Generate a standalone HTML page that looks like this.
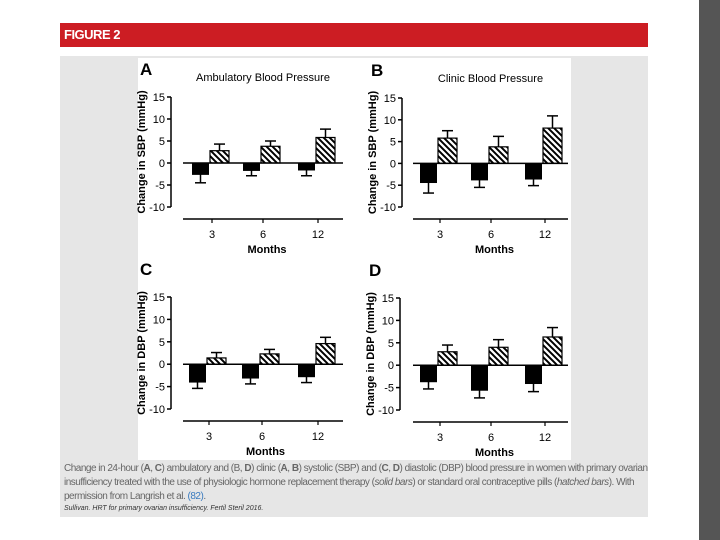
<!DOCTYPE html>
<html><head><meta charset="utf-8"><style>
body{margin:0;width:720px;height:540px;overflow:hidden;background:#fff;position:relative;font-family:"Liberation Sans",sans-serif}
.abs{position:absolute}
.cl{white-space:nowrap;display:block}
</style></head><body>
<div class="abs" style="left:699px;top:0;width:21px;height:540px;background:#555"></div>
<div class="abs" style="left:60px;top:23px;width:588px;height:24px;background:#cc1d23;color:#fff;font-weight:bold;font-size:13px;line-height:24px;padding-left:4px;box-sizing:border-box;letter-spacing:-0.5px">FIGURE 2</div>
<div class="abs" style="left:60px;top:56px;width:588px;height:461px;background:#e6e6e6"></div>
<div class="abs" style="left:138px;top:58px;width:433px;height:402px;background:#fff"></div>
<svg class="abs" style="left:0;top:0" width="720" height="540" id="svg">
<defs><pattern id="hatch" width="6" height="6" patternUnits="userSpaceOnUse"><rect width="6" height="6" fill="#fff"/><path d="M-1,-1 L7,7 M-1,5 L1,7 M5,-1 L7,1" stroke="#000" stroke-width="2"/></pattern></defs>
</svg>
<div class="abs" style="left:64px;top:462px;width:584px;font-size:10px;line-height:14px;color:#666;letter-spacing:-0.5px">
<span class="cl">Change in 24-hour (<b>A</b>, <b>C</b>) ambulatory and (B, <b>D</b>) clinic (<b>A</b>, <b>B</b>) systolic (SBP) and (<b>C</b>, <b>D</b>) diastolic (DBP) blood pressure in women with primary ovarian</span>
<span class="cl">insufficiency treated with the use of physiologic hormone replacement therapy (<i>solid bars</i>) or standard oral contraceptive pills (<i>hatched bars</i>). With</span>
<span class="cl">permission from Langrish et al. <span style="color:#3a7bbf">(82)</span>.</span></div>
<div class="abs" style="left:64px;top:505px;font-size:7px;color:#333;font-style:italic">Sullivan. HRT for primary ovarian insufficiency. Fertil Steril 2016.</div>
<script>
const categories=["3","6","12"];
const ticks=[15,10,5,0,-5,-10];
const aSolid=[-2.7,-1.8,-1.7], aSolidErr=[-4.5,-2.9,-2.9], aHatch=[2.8,3.8,5.8], aHatchErr=[4.3,5.0,7.7];
const bSolid=[-4.5,-3.9,-3.7], bSolidErr=[-6.8,-5.5,-5.1], bHatch=[5.8,3.8,8.1], bHatchErr=[7.5,6.2,10.9];
const cSolid=[-4.1,-3.2,-2.9], cSolidErr=[-5.4,-4.4,-4.1], cHatch=[1.4,2.3,4.6], cHatchErr=[2.6,3.3,6.0];
const dSolid=[-3.8,-5.7,-4.2], dSolidErr=[-5.3,-7.3,-5.9], dHatch=[3.0,4.0,6.3], dHatchErr=[4.5,5.7,8.4];
const NS="http://www.w3.org/2000/svg";
const svg=document.getElementById('svg');
function mk(tag,attrs,parent){const e=document.createElementNS(NS,tag);for(const k in attrs)e.setAttribute(k,attrs[k]);(parent||svg).appendChild(e);return e;}
function panel(p){
  const g=mk('g',{});
  
  
  const y=v=>p.y0+(15-v)*(p.y1-p.y0)/25;
  const xc=i=>p.cx[i];
  let t=mk('text',{x:p.ax-31,y:p.y0-22,'font-size':17,'font-weight':'bold'},g);t.textContent=p.letter;
  
  if(p.title){t=mk('text',{x:(p.px0+p.px1)/2,y:p.y0-16,'font-size':11,'text-anchor':'middle'},g);t.textContent=p.title;
  }
  mk('line',{x1:p.ax,x2:p.ax,y1:y(15),y2:y(-10),stroke:'#000','stroke-width':1.5},g);
  ticks.forEach(v=>{mk('line',{x1:p.ax-4,x2:p.ax,y1:y(v),y2:y(v),stroke:'#000','stroke-width':1.5},g);
    const tt=mk('text',{x:p.ax-6,y:y(v)+4,'font-size':11,'text-anchor':'end'},g);tt.textContent=v;
    });
  t=mk('text',{x:0,y:0,'font-size':11,'font-weight':'bold','text-anchor':'middle',transform:`translate(${p.ax-26},${(y(15)+y(-10))/2}) rotate(-90)`},g);t.textContent=p.ylab;
  
  const xa=y(-10)+12;
  mk('line',{x1:p.px0,x2:p.px1,y1:xa,y2:xa,stroke:'#000','stroke-width':1.5},g);
  categories.forEach((c,i)=>{mk('line',{x1:xc(i),x2:xc(i),y1:xa,y2:xa+4,stroke:'#000','stroke-width':1.2},g);
    const tt=mk('text',{x:xc(i),y:xa+19,'font-size':11,'text-anchor':'middle'},g);tt.textContent=c;
    
    const s=p.solid[i],se=p.solidErr[i],h=p.hatch[i],he=p.hatchErr[i];
    const bx=xc(i)-20;
    mk('line',{x1:bx+8.5,x2:bx+8.5,y1:y(0),y2:y(se),stroke:'#000','stroke-width':1.5},g);
    mk('line',{x1:bx+3,x2:bx+14,y1:y(se),y2:y(se),stroke:'#000','stroke-width':1.5},g);
    const r1=mk('rect',{x:bx,y:y(0),width:17,height:y(s)-y(0),fill:'#000'},g);
    
    const hx=bx+18;
    mk('line',{x1:hx+9.5,x2:hx+9.5,y1:y(h),y2:y(he),stroke:'#000','stroke-width':1.5},g);
    mk('line',{x1:hx+4,x2:hx+15,y1:y(he),y2:y(he),stroke:'#000','stroke-width':1.5},g);
    const r2=mk('rect',{x:hx,y:y(h),width:19,height:y(0)-y(h),fill:'url(#hatch)',stroke:'#000','stroke-width':1.2},g);
    
  });
  mk('line',{x1:p.px0,x2:p.px1,y1:y(0),y2:y(0),stroke:'#000','stroke-width':1.5},g);
  t=mk('text',{x:(p.cx[0]+p.cx[2])/2+2,y:xa+34,'font-size':11,'font-weight':'bold','text-anchor':'middle'},g);t.textContent='Months';
  
}
panel({letter:'A',title:'Ambulatory Blood Pressure',ax:171,px0:183,px1:343,y0:97,y1:207,cx:[212,263,318],ylab:'Change in SBP (mmHg)',solid:aSolid,solidErr:aSolidErr,hatch:aHatch,hatchErr:aHatchErr});
panel({letter:'B',title:'Clinic Blood Pressure',ax:402,px0:413,px1:568,y0:98,y1:207,cx:[440,491,545],ylab:'Change in SBP (mmHg)',solid:bSolid,solidErr:bSolidErr,hatch:bHatch,hatchErr:bHatchErr});
panel({letter:'C',title:null,ax:171,px0:183,px1:343,y0:297,y1:409,cx:[209,262,318],ylab:'Change in DBP (mmHg)',solid:cSolid,solidErr:cSolidErr,hatch:cHatch,hatchErr:cHatchErr});
panel({letter:'D',title:null,ax:400,px0:413,px1:568,y0:298,y1:410,cx:[440,491,545],ylab:'Change in DBP (mmHg)',solid:dSolid,solidErr:dSolidErr,hatch:dHatch,hatchErr:dHatchErr});
</script>
</body></html>
